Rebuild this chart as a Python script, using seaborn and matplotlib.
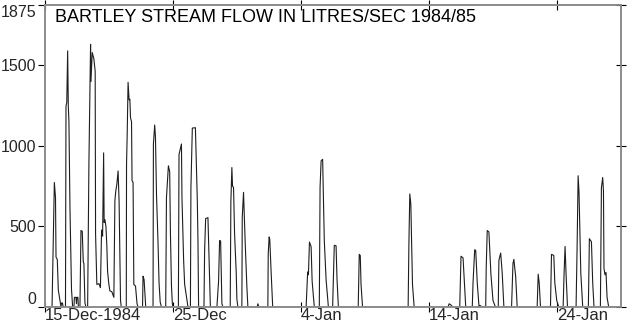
import pandas as pd
import matplotlib
matplotlib.use("Agg")
import matplotlib.pyplot as plt
import seaborn as sns

start = pd.Timestamp("1984-12-15")
end = pd.Timestamp("1985-01-29")

# days after 15-Dec-1984 00:00 and stream flow in litres/sec
days = [0.00, 0.55, 0.73, 0.82, 0.86, 0.96, 1.04, 1.17, 1.25, 1.29, 1.36, 1.42,
        1.60, 1.64, 1.70, 1.77, 1.82, 1.87, 1.95, 2.07, 2.16,
        2.26, 2.30, 2.42, 2.46, 2.49, 2.57, 2.61,
        2.73, 2.81, 2.91, 2.99, 3.04, 3.12, 3.20,
        3.33, 3.43, 3.56, 3.59, 3.69, 3.82, 3.92, 3.95, 4.05, 4.21, 4.33, 4.42,
        4.50, 4.58, 4.62, 4.68, 4.76, 4.83, 4.89, 4.99, 5.07, 5.22, 5.38, 5.46,
        5.53, 5.61, 5.71, 5.79, 5.85, 5.90, 5.96,
        6.35, 6.37, 6.42, 6.49, 6.57, 6.63, 6.68, 6.76, 6.80, 6.88, 6.94, 7.07, 7.19, 7.27,
        7.62, 7.66, 7.74, 7.82, 7.87,
        8.44, 8.47, 8.57, 8.63, 8.71, 8.83, 8.91, 9.00, 9.10,
        9.43, 9.49, 9.56, 9.64, 9.74, 9.80, 9.88, 9.95, 10.00,
        10.42, 10.47, 10.58, 10.66, 10.70, 10.83, 10.91, 11.04, 11.17,
        11.36, 11.40, 11.51, 11.75, 11.82, 11.90, 11.95, 12.00,
        12.42, 12.47, 12.55, 12.73, 12.81, 12.92,
        13.43, 13.56, 13.64, 13.72, 13.82, 13.90,
        14.47, 14.52, 14.60, 14.65, 14.73, 14.81, 14.94, 14.99, 15.07,
        15.38, 15.41, 15.51, 15.64, 15.77, 15.85,
        16.58, 16.63, 16.70,
        17.41, 17.44, 17.51, 17.56, 17.67, 17.79,
        20.40, 20.52, 20.58, 20.66, 20.79, 20.87, 21.04,
        21.43, 21.49, 21.57, 21.69, 21.82, 21.96, 22.14,
        22.47, 22.53, 22.60, 22.74, 22.81, 22.92,
        24.47, 24.55, 24.63, 24.69, 24.81,
        28.37, 28.43, 28.50, 28.58, 28.71, 28.84,
        31.49, 31.57, 31.72, 31.84,
        32.40, 32.50, 32.66, 32.87,
        33.38, 33.44, 33.57, 33.65, 33.77, 33.91, 33.98, 34.14,
        34.43, 34.47, 34.55, 34.68, 34.84, 35.00, 35.19,
        35.41, 35.46, 35.60, 35.72, 35.85,
        36.45, 36.56, 36.63, 36.77, 36.89,
        38.45, 38.53, 38.61, 38.71,
        39.49, 39.57, 39.75, 39.83, 39.98, 40.14,
        40.48, 40.55, 40.63, 40.71, 40.82,
        41.49, 41.57, 41.65, 41.72, 41.86, 42.01,
        42.45, 42.53, 42.69, 42.79, 42.89,
        43.39, 43.47, 43.57, 43.63, 43.67, 43.75, 43.83, 43.91, 44.04,
        44.60]
flow = [0, 0, 773, 680, 310, 295, 105, 40, 0, 25, 25, 0,
        0, 1247, 1270, 1590, 1250, 1150, 617, 110, 0,
        0, 60, 60, 20, 60, 60, 0,
        0, 475, 470, 280, 270, 25, 0,
        0, 888, 1631, 1400, 1580, 1540, 1463, 456, 140, 145, 120, 478,
        440, 957, 525, 543, 500, 383, 220, 140, 100, 95, 60, 660,
        720, 760, 845, 650, 330, 40, 0,
        0, 888, 1066, 1395, 1286, 1290, 1175, 1150, 784, 774, 140, 130, 20, 0,
        0, 191, 170, 60, 0,
        0, 1012, 1130, 1053, 700, 400, 150, 30, 0,
        0, 680, 774, 877, 840, 456, 130, 20, 0,
        0, 947, 984, 1012, 680, 290, 140, 70, 0,
        0, 740, 1111, 1113, 907, 660, 413, 0,
        0, 352, 549, 555, 313, 0,
        0, 160, 413, 410, 20, 0,
        0, 650, 866, 750, 743, 456, 212, 50, 0,
        0, 557, 712, 400, 130, 0,
        0, 20, 0,
        0, 330, 435, 420, 210, 0,
        0, 218, 200, 403, 375, 160, 0,
        0, 743, 907, 917, 413, 170, 0,
        0, 180, 383, 380, 180, 0,
        0, 327, 320, 140, 0,
        0, 395, 702, 640, 140, 0,
        0, 20, 12, 0,
        0, 315, 305, 0,
        0, 150, 356, 350, 150, 0, 10, 0,
        0, 245, 475, 466, 200, 40, 0,
        0, 290, 335, 210, 0,
        0, 270, 296, 190, 0,
        0, 204, 150, 0,
        0, 327, 320, 150, 40, 0,
        0, 200, 376, 200, 0,
        0, 370, 815, 712, 210, 0,
        0, 424, 405, 150, 0,
        0, 740, 804, 720, 240, 200, 215, 60, 0,
        0]

ytick_vals = [0, 500, 1000, 1500, 1875]
xtick_dates = ["1984-12-15", "1984-12-25", "1985-01-04", "1985-01-14", "1985-01-24"]
xtick_labels = ["15-Dec-1984", "25-Dec", "4-Jan", "14-Jan", "24-Jan"]
title = "BARTLEY STREAM FLOW IN LITRES/SEC 1984/85"

df = pd.DataFrame({"time": start + pd.to_timedelta(days, unit="D"), "flow": flow})

sns.set_style("white")
plt.rcParams["font.family"] = ["Liberation Sans", "DejaVu Sans"]

fig = plt.figure(figsize=(6.27, 3.22), dpi=100)
ax = fig.add_axes([45 / 627, 15 / 322, 576 / 627, 302 / 322])
sns.lineplot(data=df, x="time", y="flow", ax=ax, color="#1e1e1e",
             linewidth=0.8, estimator=None, sort=False)

ax.set_xlim(start, end)
ax.set_ylim(0, 1875)
ax.set_xlabel("")
ax.set_ylabel("")

ax.set_xticks(pd.to_datetime(xtick_dates))
ax.set_xticklabels(xtick_labels, ha="left")
ax.tick_params(axis="x", top=True, bottom=True, direction="inout", length=7,
               width=0.8, color="black", labelsize=12, pad=-2.8)

ax.set_yticks(ytick_vals)
ax.set_yticklabels([str(v) for v in ytick_vals])
ax.tick_params(axis="y", left=True, direction="out", length=5, width=0.8,
               color="black", labelsize=11.5, pad=1.5)
yt = ax.yaxis.get_major_ticks()
yt[0].label1.set_verticalalignment("bottom")
yt[-1].label1.set_verticalalignment("top")

# right-hand ticks cross the frame
ax2 = ax.twinx()
ax2.set_ylim(0, 1875)
ax2.set_yticks(ytick_vals)
ax2.tick_params(axis="y", right=True, direction="inout", length=7, width=0.8,
                color="black", labelright=False)
ax2.grid(False)

for a in (ax, ax2):
    for s in a.spines.values():
        s.set_color("#8c8c8c")
        s.set_linewidth(1.2)

ax.text(0.0174, 0.945, title, transform=ax.transAxes, fontsize=13,
        ha="left", va="baseline", color="black")

fig.savefig("out.png", dpi=100)
